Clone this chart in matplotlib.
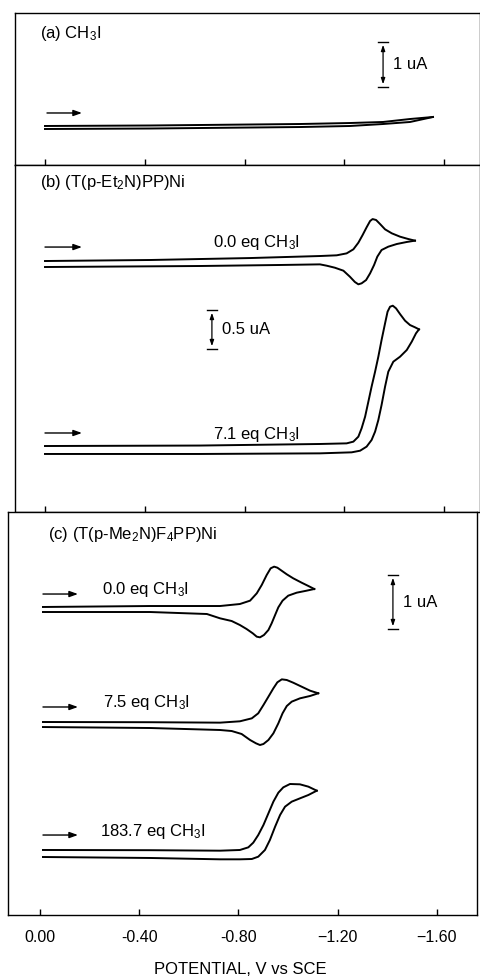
import matplotlib
matplotlib.use('Agg')
from matplotlib import pyplot as plt

plt.rcParams['font.family'] = ['Liberation Sans', 'DejaVu Sans']
plt.rcParams['mathtext.fontset'] = 'custom'
plt.rcParams['mathtext.rm'] = 'Liberation Sans'
plt.rcParams['mathtext.it'] = 'Liberation Sans:italic'

# potentials in V vs SCE, currents in uA (trace offset included)
# (a) CH3I alone
a_fwd_v = [0, -0.421, -1.022, -1.222, -1.355, -1.463, -1.555]
a_fwd_i = [0.867, 0.878, 0.911, 0.933, 0.956, 1.022, 1.067]
a_rev_v = [-1.555, -1.463, -1.355, -1.222, -1.022, -0.421, 0]
a_rev_i = [1.067, 0.956, 0.911, 0.867, 0.844, 0.811, 0.800]

# (b) (T(p-Et2N)PP)Ni, 0.0 eq
b1_fwd_v = [0, -0.421, -0.822, -1.102, -1.169, -1.209, -1.236, -1.256, -1.273, -1.289, -1.303, -1.313,
            -1.327, -1.343, -1.363, -1.390, -1.423, -1.456, -1.483]
b1_fwd_i = [3.218, 3.231, 3.256, 3.282, 3.291, 3.316, 3.368, 3.453, 3.551, 3.650, 3.731, 3.756,
            3.744, 3.692, 3.624, 3.573, 3.530, 3.500, 3.479]
b1_rev_v = [-1.483, -1.450, -1.410, -1.376, -1.349, -1.332, -1.319, -1.303, -1.287, -1.269, -1.256,
            -1.242, -1.222, -1.196, -1.162, -1.129, -1.102, -0.942, -0.621, 0]
b1_rev_i = [3.479, 3.462, 3.436, 3.402, 3.359, 3.274, 3.167, 3.060, 2.974, 2.932, 2.919,
            2.949, 3.017, 3.094, 3.132, 3.158, 3.175, 3.167, 3.154, 3.141]
# (b) 7.1 eq
b2_fwd_v = [0, -0.621, -1.102, -1.209, -1.236, -1.256, -1.269, -1.283, -1.296, -1.309, -1.323, -1.336,
            -1.349, -1.363, -1.373, -1.383, -1.394, -1.407, -1.423, -1.443, -1.463, -1.483, -1.499]
b2_fwd_i = [0.846, 0.852, 0.872, 0.880, 0.902, 0.966, 1.073, 1.222, 1.414, 1.607, 1.799, 1.991,
            2.205, 2.419, 2.568, 2.632, 2.645, 2.611, 2.538, 2.453, 2.397, 2.368, 2.342]
b2_rev_v = [-1.499, -1.487, -1.470, -1.450, -1.423, -1.396, -1.376, -1.363, -1.349, -1.336, -1.323,
            -1.309, -1.289, -1.263, -1.229, -1.102, -0.621, 0]
b2_rev_i = [2.342, 2.291, 2.184, 2.077, 1.991, 1.927, 1.799, 1.607, 1.372, 1.179, 1.030,
            0.923, 0.838, 0.786, 0.765, 0.752, 0.744, 0.744]

# (c) (T(p-Me2N)F4PP)Ni, 0.0 eq
c1_fwd_v = [-0.012, -0.444, -0.726, -0.806, -0.847, -0.874, -0.894, -0.914, -0.930, -0.944, -0.957,
            -0.974, -0.995, -1.021, -1.055, -1.082, -1.106]
c1_fwd_i = [5.704, 5.722, 5.722, 5.759, 5.821, 5.957, 6.111, 6.296, 6.420, 6.451, 6.432,
            6.377, 6.309, 6.235, 6.154, 6.093, 6.037]
c1_rev_v = [-1.106, -1.075, -1.035, -1.001, -0.978, -0.961, -0.948, -0.934, -0.921, -0.903, -0.887,
            -0.874, -0.858, -0.833, -0.806, -0.773, -0.726, -0.673, -0.444, -0.012]
c1_rev_i = [6.037, 6.006, 5.969, 5.914, 5.821, 5.698, 5.556, 5.401, 5.278, 5.185, 5.142,
            5.154, 5.216, 5.296, 5.370, 5.444, 5.494, 5.574, 5.611, 5.611]
# (c) 7.5 eq
c2_fwd_v = [-0.012, -0.444, -0.726, -0.806, -0.854, -0.880, -0.901, -0.921, -0.941, -0.957, -0.975,
            -0.995, -1.021, -1.055, -1.089, -1.122]
c2_fwd_i = [3.574, 3.570, 3.562, 3.587, 3.642, 3.735, 3.889, 4.043, 4.198, 4.309, 4.364,
            4.352, 4.302, 4.228, 4.154, 4.106]
c2_rev_v = [-1.122, -1.089, -1.048, -1.015, -0.995, -0.978, -0.961, -0.941, -0.921, -0.901, -0.887,
            -0.871, -0.847, -0.813, -0.773, -0.726, -0.444, -0.012]
c2_rev_i = [4.106, 4.056, 4.012, 3.951, 3.870, 3.735, 3.549, 3.364, 3.241, 3.167, 3.148,
            3.179, 3.241, 3.352, 3.407, 3.426, 3.463, 3.481]
# (c) 183.7 eq
c3_fwd_v = [-0.012, -0.444, -0.726, -0.806, -0.840, -0.860, -0.880, -0.901, -0.921, -0.941, -0.961,
            -0.981, -1.008, -1.048, -1.082, -1.116]
c3_fwd_i = [1.204, 1.200, 1.191, 1.204, 1.253, 1.340, 1.481, 1.667, 1.883, 2.099, 2.265,
            2.364, 2.426, 2.420, 2.377, 2.302]
c3_rev_v = [-1.116, -1.082, -1.048, -1.015, -0.988, -0.968, -0.948, -0.927, -0.907, -0.880, -0.854,
            -0.806, -0.726, -0.444, -0.012]
c3_rev_i = [2.302, 2.222, 2.160, 2.099, 2.006, 1.852, 1.636, 1.389, 1.204, 1.080, 1.037,
            1.031, 1.031, 1.056, 1.074]

tick_v = [0.0, -0.4, -0.8, -1.2, -1.6]
tick_lbl = ['0.00', '-0.40', '-0.80', '\u22121.20', '\u22121.60']

W, H = 481, 977
fig = plt.figure(figsize=(W / 100, H / 100), dpi=100)


def make_ax(x0, x1, ytop, ybot, xlim, ymax):
    ax = fig.add_axes([x0 / W, 1 - ybot / H, (x1 - x0) / W, (ybot - ytop) / H])
    ax.set_xlim(*xlim)
    ax.set_ylim(0, ymax)
    ax.set_yticks([])
    ax.set_xticks(tick_v)
    ax.tick_params(axis='x', direction='in', length=4, width=1.0, pad=11, labelsize=11.5)
    ax.set_xticklabels([])
    for s in ax.spines.values():
        s.set_linewidth(1.0)
    return ax


ax_a = make_ax(15, 480, 13, 165, (0.1202, -1.7435), 3.378)
ax_b = make_ax(15, 480, 165, 512, (0.1202, -1.7435), 4.449)
ax_c = make_ax(8, 477, 512, 915, (0.129, -1.762), 7.463)
ax_c.set_xticklabels(tick_lbl)

lw = 1.4
ax_a.plot(a_fwd_v, a_fwd_i, 'k-', lw=lw, solid_joinstyle='round')
ax_a.plot(a_rev_v, a_rev_i, 'k-', lw=lw, solid_joinstyle='round')
for v, i in [(b1_fwd_v, b1_fwd_i), (b1_rev_v, b1_rev_i), (b2_fwd_v, b2_fwd_i), (b2_rev_v, b2_rev_i)]:
    ax_b.plot(v, i, 'k-', lw=lw, solid_joinstyle='round')
for v, i in [(c1_fwd_v, c1_fwd_i), (c1_rev_v, c1_rev_i), (c2_fwd_v, c2_fwd_i),
             (c2_rev_v, c2_rev_i), (c3_fwd_v, c3_fwd_i), (c3_rev_v, c3_rev_i)]:
    ax_c.plot(v, i, 'k-', lw=lw, solid_joinstyle='round')

fs = 12
ax_a.text(0.02, 2.93, '(a) CH$_3$I', fontsize=fs, va='center')
ax_b.text(0.02, 4.23, '(b) (T(p-Et$_2$N)PP)Ni', fontsize=fs, va='center')
ax_c.text(-0.032, 7.04, '(c) (T(p-Me$_2$N)F$_4$PP)Ni', fontsize=fs, va='center')

ax_b.text(-0.673, 3.46, '0.0 eq CH$_3$I', fontsize=fs, va='center')
ax_b.text(-0.673, 0.99, '7.1 eq CH$_3$I', fontsize=fs, va='center')
ax_c.text(-0.250, 6.02, '0.0 eq CH$_3$I', fontsize=fs, va='center')
ax_c.text(-0.254, 3.93, '7.5 eq CH$_3$I', fontsize=fs, va='center')
ax_c.text(-0.242, 1.54, '183.7 eq CH$_3$I', fontsize=fs, va='center')

# sweep direction arrows
arrow_kw = dict(arrowstyle='-|>,head_length=0.5,head_width=0.18', color='k', lw=1.0,
                shrinkA=0, shrinkB=0)
for ax, v0, v1, i in [(ax_a, -0.008, -0.148, 1.156), (ax_b, 0.0, -0.148, 3.397),
                      (ax_b, 0.0, -0.148, 1.013), (ax_c, -0.012, -0.153, 5.944),
                      (ax_c, -0.012, -0.153, 3.852), (ax_c, -0.012, -0.153, 1.481)]:
    ax.annotate('', xy=(v1, i), xytext=(v0, i), arrowprops=arrow_kw)

# current scale bars
bar_kw = dict(arrowstyle='<|-|>,head_length=0.35,head_width=0.12', color='k', lw=0.9,
              shrinkA=2, shrinkB=2)
for ax, v, top, bot, lbl in [(ax_a, -1.355, 2.733, 1.733, '1 uA'),
                             (ax_b, -0.669, 2.590, 2.090, '0.5 uA'),
                             (ax_c, -1.423, 6.296, 5.296, '1 uA')]:
    ax.annotate('', xy=(v, top), xytext=(v, bot), arrowprops=bar_kw)
    ax.plot([v + 0.02, v - 0.02], [top, top], 'k-', lw=1.0)
    ax.plot([v + 0.02, v - 0.02], [bot, bot], 'k-', lw=1.0)
    ax.text(v - 0.04, (top + bot) / 2, lbl, fontsize=fs, va='center')

fig.text(240 / W, 1 - 970 / H, 'POTENTIAL, V vs SCE', fontsize=12, ha='center', va='center')

plt.savefig('out.png', dpi=100)
